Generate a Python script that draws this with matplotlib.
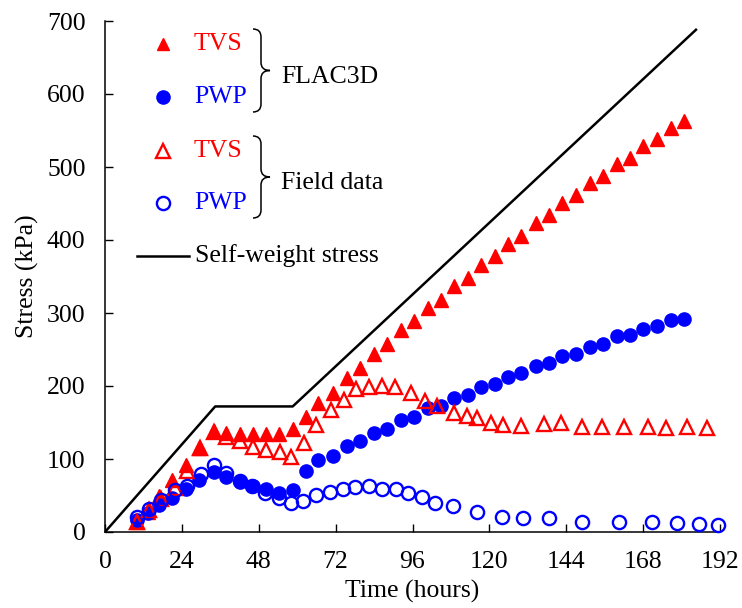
import matplotlib
matplotlib.use("Agg")
import matplotlib.pyplot as plt
from matplotlib.path import Path
from matplotlib.patches import PathPatch
from matplotlib.lines import Line2D

plt.rcParams['font.family'] = ['Liberation Serif', 'DejaVu Serif']

# ---- data ----
flac_t = [9.9, 13.5, 17.0, 20.8, 25.3, 29.5, 34.0, 37.8, 42.0, 46.2, 50.2, 54.4, 58.6, 62.7,
          66.6, 71.2, 75.6, 79.5, 84.1, 88.1, 92.4, 96.4, 100.8, 105.0, 109.1, 113.3, 117.5,
          121.6, 125.8, 130.0, 134.5, 138.6, 142.8, 147.0, 151.3, 155.5, 159.7, 163.9, 168.1,
          172.3, 176.7, 180.8]
flac_tvs = [14, 27, 49, 71, 92, 115, 139, 135, 134, 134, 134, 134, 141, 158,
            177, 191, 211, 225, 244, 257, 277, 289, 307, 318, 337, 348, 366,
            378, 395, 406, 423, 434, 451, 461, 478, 488, 504, 513, 529,
            538, 554, 563]
flac_pwp = [16, 26, 37, 47, 59, 71, 82, 75, 69, 63, 59, 54, 58, 83,
            99, 104, 118, 124, 136, 141, 154, 157, 170, 173, 183, 188, 199,
            203, 212, 218, 228, 231, 241, 244, 253, 257, 268, 270, 278,
            282, 290, 292]

field_tvs_t = [10.0, 13.8, 17.6, 21.9, 25.7, 29.8, 34.0, 37.8, 42.0, 46.2, 50.3, 54.5, 58.0,
               62.0, 66.0, 70.4, 74.5, 78.5, 82.3, 86.5, 90.4, 95.4, 99.8, 103.7, 109.1,
               113.1, 116.2, 120.4, 124.3, 130.0, 136.9, 142.3, 149.0, 155.3, 162.1, 169.4,
               175.1, 181.6, 187.8]
field_tvs = [14, 30, 45, 60, 84, 115, 137, 130, 124, 117, 112, 109, 103,
             122, 147, 167, 181, 196, 199, 200, 199, 190, 180, 172, 163,
             159, 156, 149, 147, 145, 148, 150, 144, 144, 144, 144,
             142, 144, 142]

field_pwp_t = [9.9, 13.8, 17.6, 21.9, 25.7, 29.9, 34.1, 37.8, 42.0, 45.9, 50.1, 54.2, 58.1,
               61.8, 66.0, 70.1, 74.3, 78.2, 82.3, 86.5, 91.0, 94.5, 99.0, 102.9, 108.7,
               116.0, 124.0, 130.6, 138.6, 148.8, 160.5, 170.9, 178.7, 185.5, 191.3]
field_pwp = [20, 32, 44, 58, 63, 80, 92, 81, 70, 63, 53, 46, 40,
             43, 51, 55, 59, 61, 63, 59, 59, 53, 48, 40, 35,
             28, 20, 19, 19, 14, 14, 14, 12, 11, 10]

sw_t = [0, 34.4, 58.6, 184.5]
sw_stress = [0, 172, 172, 688]

x_ticks = [0, 24, 48, 72, 96, 120, 144, 168, 192]
y_ticks = [0, 100, 200, 300, 400, 500, 600, 700]

RED = '#FF0000'
BLUE = '#0000FF'
FS = 18.5

W, H = 742, 608
fig = plt.figure(figsize=(W / 100, H / 100), dpi=100)
ax = fig.add_axes([105 / W, 1 - 532 / H, 615 / W, (532 - 21) / H])

ax.plot(sw_t, sw_stress, color='black', lw=1.8, zorder=2)
ax.plot(flac_t, flac_tvs, linestyle='none', marker='^', ms=10.5, color=RED, mec=RED, zorder=3,
        clip_on=False)
ax.plot(flac_t, flac_pwp, linestyle='none', marker='o', ms=9.5, color=BLUE, mec=BLUE, zorder=3,
        clip_on=False)
ax.plot(field_tvs_t, field_tvs, linestyle='none', marker='^', ms=10.5, mfc='none', mec=RED,
        mew=1.7, zorder=4, clip_on=False)
ax.plot(field_pwp_t, field_pwp, linestyle='none', marker='o', ms=9.5, mfc='none', mec=BLUE,
        mew=1.7, zorder=4, clip_on=False)

ax.set_xlim(0, 192)
ax.set_ylim(0, 700)
ax.set_xticks(x_ticks)
ax.set_yticks(y_ticks)
ax.tick_params(direction='in', length=6, width=1, labelsize=FS, pad=14)
for s in ['top', 'right']:
    ax.spines[s].set_visible(False)
for s in ['left', 'bottom']:
    ax.spines[s].set_linewidth(1.1)
ax.set_xlabel('Time (hours)', fontsize=FS, labelpad=5)
ax.set_ylabel('Stress (kPa)', fontsize=FS, labelpad=6)

# ---- custom legend (figure pixel coords) ----
def fx(px):
    return px / W

def fy(py):
    return 1 - py / H

leg_items = [
    ('^', RED, True, 'TVS', 44),
    ('o', BLUE, True, 'PWP', 97),
    ('^', RED, False, 'TVS', 151),
    ('o', BLUE, False, 'PWP', 203),
]
for mk, col, filled, lab, py in leg_items:
    if filled:
        m = Line2D([fx(163)], [fy(py)], marker=mk, ms=9 if mk == '^' else 9.5,
                   color=col, linestyle='none', transform=fig.transFigure)
    else:
        m = Line2D([fx(163)], [fy(py)], marker=mk, ms=9.5, mfc='none', mec=col, mew=1.7,
                   linestyle='none', transform=fig.transFigure)
    fig.add_artist(m)
    fig.text(fx(194), fy(py), lab, color=col, fontsize=FS, va='center', ha='left')

fig.add_artist(Line2D([fx(137), fx(189)], [fy(256), fy(256)], color='black', lw=1.8,
                      transform=fig.transFigure))
fig.text(fx(195), fy(256), 'Self-weight stress', fontsize=FS, va='center', ha='left')


def brace(top, bottom, x0=253, xm=261, xt=270):
    mid = (top + bottom) / 2
    r = 8
    pts = [(x0, top), (xm, top), (xm, top + r), (xm, mid - r), (xm, mid), (xt, mid),
           (xm, mid), (xm, mid + r), (xm, bottom - r), (xm, bottom), (x0, bottom)]
    codes = [Path.MOVETO, Path.CURVE3, Path.CURVE3, Path.LINETO, Path.CURVE3, Path.CURVE3,
             Path.CURVE3, Path.CURVE3, Path.LINETO, Path.CURVE3, Path.CURVE3]
    verts = [(fx(a), fy(b)) for a, b in pts]
    p = PathPatch(Path(verts, codes), facecolor='none', edgecolor='black', lw=1.1,
                  transform=fig.transFigure)
    fig.add_artist(p)


brace(29, 112)
brace(136, 218)
fig.text(fx(281), fy(77), 'FLAC3D', fontsize=FS, va='center', ha='left')
fig.text(fx(281), fy(183), 'Field data', fontsize=FS, va='center', ha='left')

fig.savefig('out.png', dpi=100)
